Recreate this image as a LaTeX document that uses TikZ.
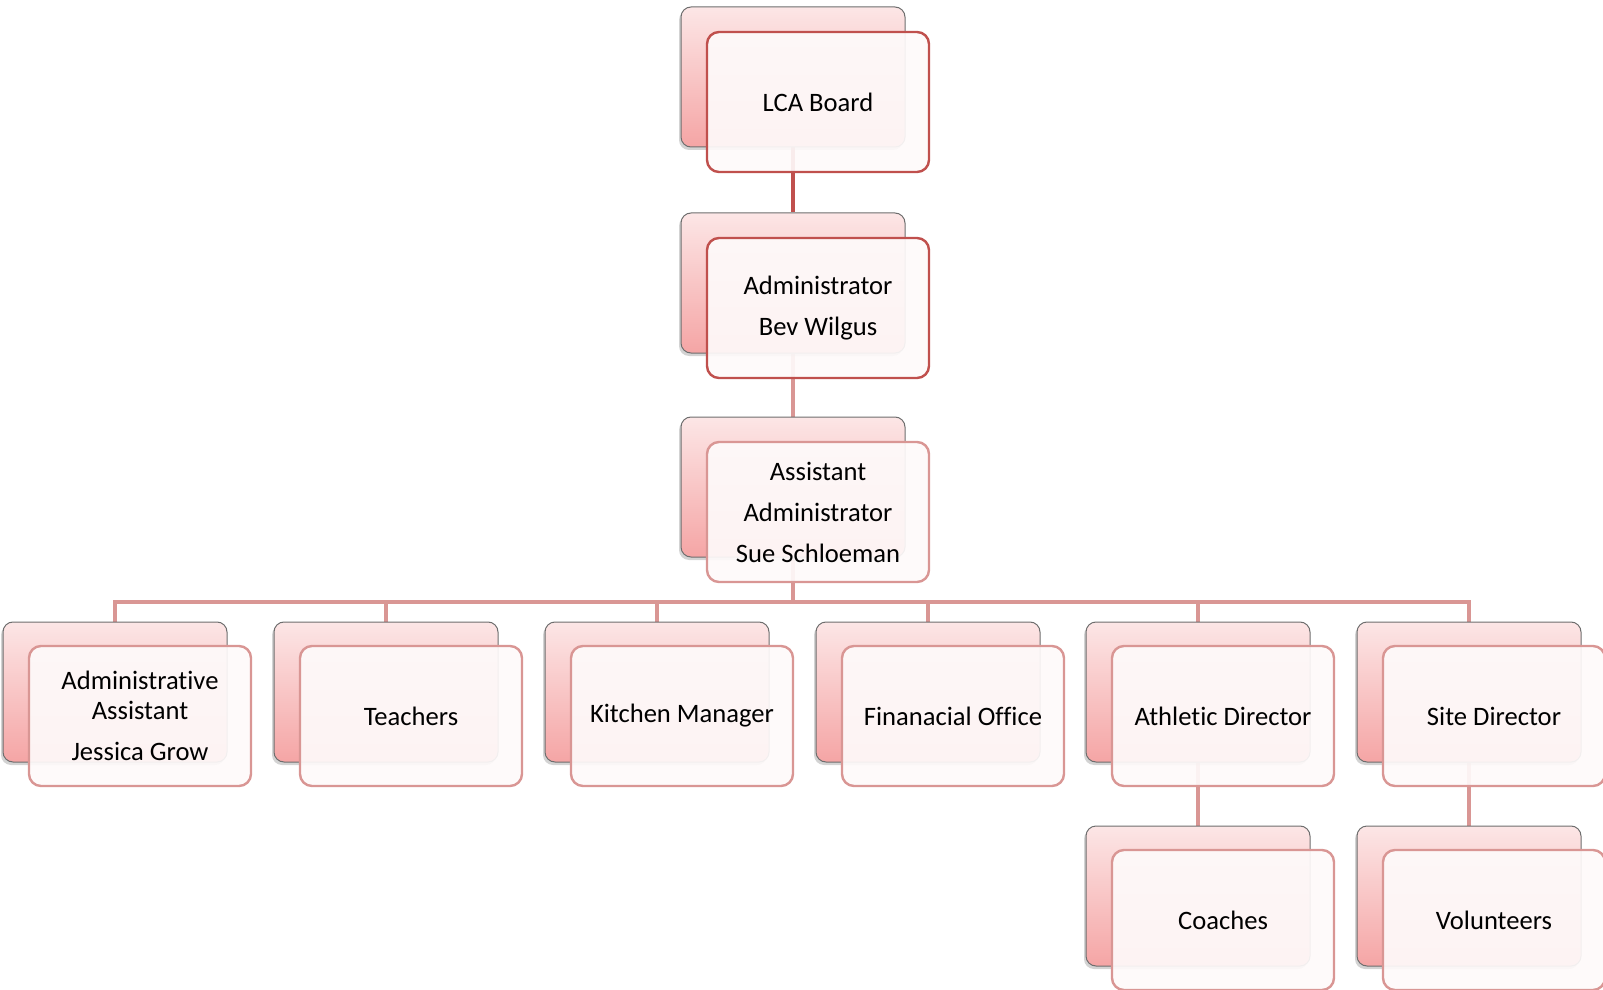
\documentclass[tikz,border=0pt]{standalone}
\usepackage{fontspec}
\setmainfont[Ligatures=NoCommon]{Carlito}
\usetikzlibrary{calc,shadows,backgrounds}
\definecolor{LcaRed}{RGB}{192,80,77}
\definecolor{LcaRose}{RGB}{217,150,148}
\definecolor{LcaPinkTop}{RGB}{252,230,230}
\definecolor{LcaPinkBot}{RGB}{245,165,165}
\definecolor{LcaPaper}{RGB}{254,250,250}
\definecolor{LcaGray}{RGB}{110,110,110}
\tikzset{
  lca/back/.style={
    draw=LcaGray,
    line width=0.5pt,
    rounded corners=5pt,
    top color=LcaPinkTop,
    bottom color=LcaPinkBot,
    minimum width=112pt,
    minimum height=70pt,
    drop shadow={shadow xshift=-1pt,shadow yshift=-1.5pt,opacity=0.35}
  },
  lca/front/.style={
    draw=LcaRose,
    line width=1.2pt,
    rounded corners=6pt,
    fill=LcaPaper,
    fill opacity=0.92,
    text opacity=1,
    text=black,
    align=center,
    minimum width=111pt,
    minimum height=70pt,
    font=\fontsize{13.3}{20.5}\selectfont
  },
  lca/frontdark/.style={lca/front, draw=LcaRed},
  lca/link/.style={draw=LcaRose, line width=2pt},
  lca/linkdark/.style={draw=LcaRed, line width=2pt}
}

\begin{document}
\begin{tikzpicture}[x=0.5pt,y=-0.5pt]
  \useasboundingbox (0,0) rectangle (1603,990);
  \coordinate (bar) at (0,602);

  % top chain
  \node[lca/back] (boardBack) at (793,77) {};
  \node[lca/frontdark] (board) at (818,102) {LCA Board};
  \node[lca/back] (adminBack) at (793,283) {};
  \node[lca/frontdark] (admin) at (818,308) {Administrator\\Bev Wilgus};
  \node[lca/back] (asstBack) at (793,487) {};
  \node[lca/front] (asst) at (818,512) {Assistant\\Administrator\\Sue Schloeman};

  % staff row
  \foreach \i/\x/\txt in {1/115/{Administrative\\[-5.7pt]Assistant\\Jessica Grow},
                          2/386/Teachers,
                          3/657/Kitchen Manager,
                          4/928/Finanacial Office,
                          5/1198/Athletic Director,
                          6/1469/Site Director}{
    \node[lca/back] (c\i) at (\x,692) {};
    \node[lca/front] (f\i) at (\x+25,716) {\txt};
  }

  % bottom row
  \node[lca/back] (d5) at (1198,896) {};
  \node[lca/front] (g5) at (1223,920) {Coaches};
  \node[lca/back] (d6) at (1469,896) {};
  \node[lca/front] (g6) at (1494,920) {Volunteers};

  \begin{pgfonlayer}{background}
    \draw[lca/linkdark] (boardBack.south) -- (adminBack.north);
    \draw[lca/link] (adminBack.south) -- (asstBack.north);
    \foreach \i in {1,...,6}
      \draw[lca/link] (asstBack.south) |- (c\i.north |- bar) -- (c\i.north);
    \draw[lca/link] (c5.south) -- (d5.north);
    \draw[lca/link] (c6.south) -- (d6.north);
  \end{pgfonlayer}
\end{tikzpicture}
\end{document}
